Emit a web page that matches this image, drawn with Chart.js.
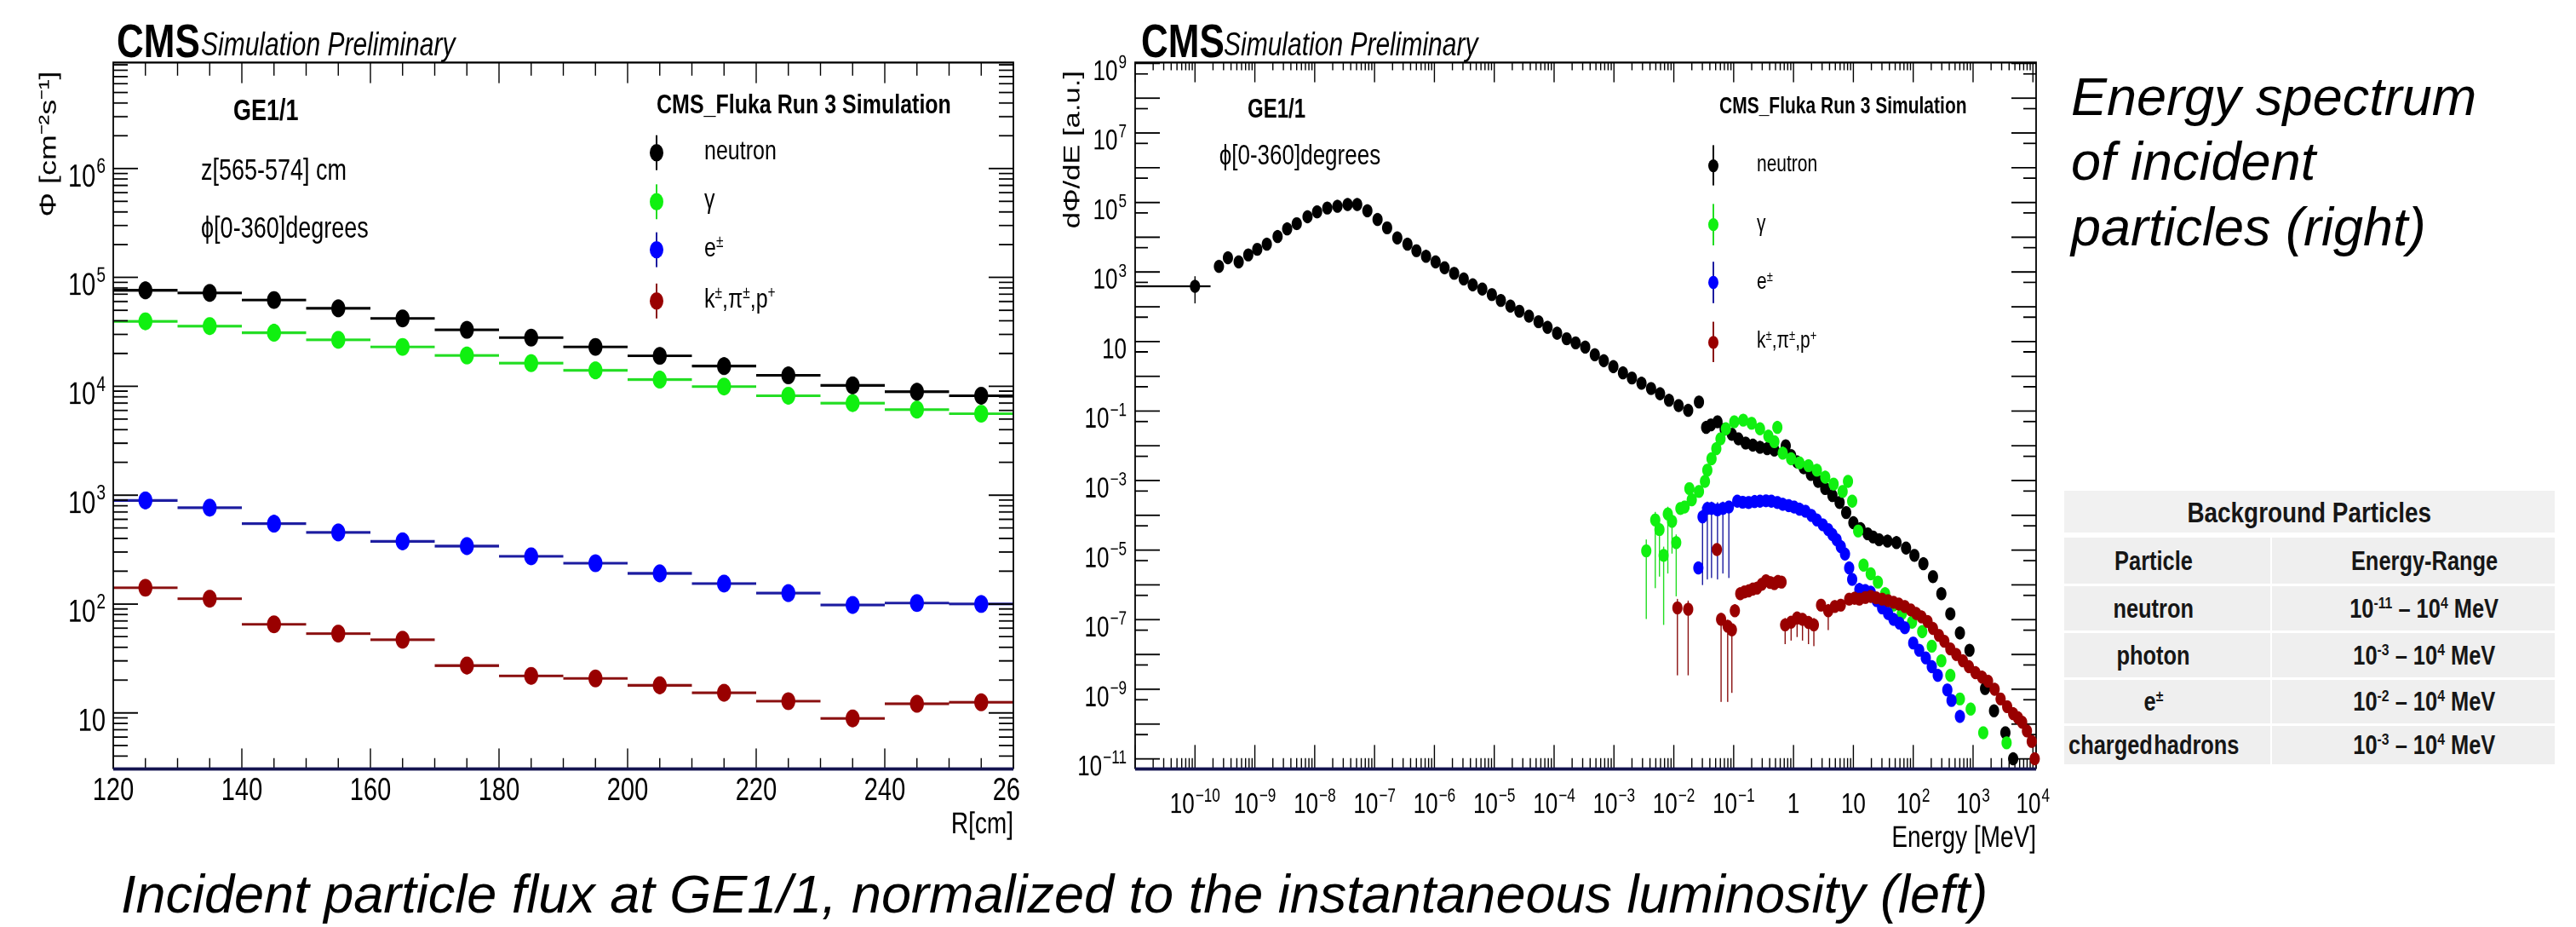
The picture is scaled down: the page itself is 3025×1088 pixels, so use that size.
<!DOCTYPE html>
<html>
<head>
<meta charset="utf-8">
<title>GE1/1 background flux and energy spectrum</title>
<script src="https://cdn.jsdelivr.net/npm/chart.js@4.4.1/dist/chart.umd.min.js"></script>
<style>
  html, body { margin: 0; padding: 0; background: #fff; }
  body { position: relative; width: 3025px; height: 1088px; overflow: hidden;
         font-family: 'Liberation Sans', Arial, Helvetica, sans-serif; color: #000; }
  /* the plots in the reference are stretched vertically, text included */
  .panel { position: absolute; top: 0; height: 790px; transform: scaleY(1.28); transform-origin: 0 0; }
  .panel canvas { position: absolute; left: 0; top: 0; }
  #leftPanel { left: 0; width: 1197px; overflow: hidden; }
  #rightPanel { left: 1240px; width: 1180px; }
  .note { position: absolute; white-space: nowrap; line-height: 1; }
  .b { font-weight: bold; }
  .i { font-style: italic; }
  sup { font-size: 0.62em; vertical-align: 0.55em; line-height: 0; }
  .mk { position: absolute; width: 0; height: 0; }
  .mk .ln { position: absolute; left: -1px; width: 2px; }
  .mk .dot { position: absolute; border-radius: 50%; }
  .slide { position: absolute; white-space: nowrap; font-style: italic; font-size: 63px; line-height: 1; }
  #bgTable { position: absolute; left: 2424px; top: 576px; width: 576px; color: #161616; }
  #bgTable .tt { height: 49px; margin-bottom: 6px; background: #f1f1f1;
                 display: flex; align-items: center; justify-content: center; }
  #bgTable .row { display: flex; gap: 2px; margin-bottom: 3px; }
  #bgTable .row > div { background: #efefef; display: flex; align-items: center; justify-content: center;
                        box-sizing: border-box; }
  #bgTable .c1 { width: 242px; padding-right: 32px; }
  #bgTable .c2 { width: 332px; padding-left: 26px; }
  #bgTable span { display: inline-block; font-weight: bold; font-size: 31px; line-height: 1;
                  transform: scaleX(0.82); white-space: nowrap; }
  #bgTable .tt span { font-size: 34px; }
</style>
</head>
<body>

<div id="leftPanel" class="panel">
  <canvas id="fluxChart" width="1240" height="790"></canvas>
  <div class="note b" style="left:137px; top:14.8px; font-size:44px;">CMS</div>
  <div class="note i" style="left:236px; top:25.6px; font-size:30px;">Simulation Preliminary</div>
  <div class="note b" style="left:274px; top:88.1px; font-size:27px;">GE1/1</div>
  <div class="note" style="left:236px; top:142.8px; font-size:27px;">z[565-574] cm</div>
  <div class="note" style="left:236px; top:195.9px; font-size:27px;">ϕ[0-360]degrees</div>
  <div class="note b" style="left:771px; top:82.8px; font-size:25px;">CMS_Fluka Run 3 Simulation</div>
  <div id="leftLegend"></div>
</div>

<div id="rightPanel" class="panel">
  <canvas id="spectrumChart" width="1180" height="790"></canvas>
  <div class="note b" style="left:100px; top:14.8px; font-size:44px;">CMS</div>
  <div class="note i" style="left:197px; top:25.6px; font-size:30px;">Simulation Preliminary</div>
  <div class="note b" style="left:225px; top:87.5px; font-size:24px;">GE1/1</div>
  <div class="note" style="left:191.7px; top:128.8px; font-size:26px;">ϕ[0-360]degrees</div>
  <div class="note b" style="left:779px; top:86.2px; font-size:21px;">CMS_Fluka Run 3 Simulation</div>
  <div id="rightLegend"></div>
</div>

<div class="slide" style="left:2432px; top:81.7px;">Energy spectrum</div>
<div class="slide" style="left:2432px; top:158.4px;">of incident</div>
<div class="slide" style="left:2432px; top:235px;">particles (right)</div>

<div id="bgTable">
  <div class="tt"><span>Background Particles</span></div>
  <div class="row" style="height:54px;"><div class="c1"><span>Particle</span></div><div class="c2"><span>Energy-Range</span></div></div>
  <div class="row" style="height:52px;"><div class="c1"><span>neutron</span></div><div class="c2"><span>10<sup>-11</sup> – 10<sup>4</sup> MeV</span></div></div>
  <div class="row" style="height:52px;"><div class="c1"><span>photon</span></div><div class="c2"><span>10<sup>-3</sup> – 10<sup>4</sup> MeV</span></div></div>
  <div class="row" style="height:51px;"><div class="c1"><span>e<sup>±</sup></span></div><div class="c2"><span>10<sup>-2</sup> – 10<sup>4</sup> MeV</span></div></div>
  <div class="row" style="height:45px;"><div class="c1"><span style="word-spacing:-7px;">charged hadrons</span></div><div class="c2"><span>10<sup>-3</sup> – 10<sup>4</sup> MeV</span></div></div>
</div>

<div class="slide" style="left:142px; top:1017.7px;">Incident particle flux at GE1/1, normalized to the instantaneous luminosity (left)</div>

<script>
// ---------- left plot: flux vs radius ----------
const radiusBins = [125, 135, 145, 155, 165, 175, 185, 195, 205, 215, 225, 235, 245, 255];
const binHalfWidth = 5;
const fluxNeutron = [76000, 72000, 62000, 52000, 42000, 33000, 28000, 23000, 19000, 15300, 12600, 10200, 8900, 8200];
const fluxGamma = [39500, 35700, 31000, 26700, 23000, 19200, 16300, 14000, 11500, 9950, 8200, 7000, 6100, 5600];
const fluxElectron = [895, 767, 546, 454, 377, 340, 274, 237, 191, 154, 126, 98, 102, 100];
const fluxHadron = [141, 112, 65, 53.5, 47, 27.2, 21.9, 20.7, 17.9, 15.3, 12.8, 8.9, 12.1, 12.5];
const radiusTicks = [120, 140, 160, 180, 200, 220, 240, 260];
const fluxTickExps = [1, 2, 3, 4, 5, 6];

// ---------- right plot: energy spectrum (powers of ten) ----------
const neutronLogE = [-10.00, -9.60, -9.45, -9.27, -9.11, -8.96, -8.80, -8.62, -8.46, -8.30, -8.12, -7.96, -7.79, -7.62,
  -7.45, -7.29, -7.12, -6.95, -6.79, -6.62, -6.45, -6.30, -6.14, -5.98, -5.83, -5.67, -5.51, -5.36, -5.20, -5.04,
  -4.89, -4.73, -4.58, -4.42, -4.26, -4.11, -3.95, -3.79, -3.64, -3.48, -3.32, -3.17, -3.01, -2.85, -2.70, -2.54,
  -2.38, -2.23, -2.08, -1.92, -1.76, -1.58, -1.46, -1.38, -1.27, -1.15, -1.03, -0.92, -0.80, -0.68, -0.56, -0.44,
  -0.32, -0.13, -0.04, 0.06, 0.17, 0.29, 0.41, 0.53, 0.65, 0.77, 0.88, 1.00, 1.12, 1.24, 1.33, 1.43, 1.57, 1.72,
  1.88, 2.02, 2.17, 2.33, 2.47, 2.62, 2.78, 2.94, 3.20, 3.35, 3.54, 3.67];
const neutronLogFlux = [2.59, 3.16, 3.41, 3.29, 3.49, 3.65, 3.80, 4.02, 4.24, 4.39, 4.59, 4.73, 4.84, 4.89,
  4.94, 4.94, 4.76, 4.51, 4.27, 3.98, 3.80, 3.61, 3.45, 3.29, 3.12, 2.96, 2.80, 2.63, 2.51, 2.35,
  2.18, 2.02, 1.87, 1.73, 1.57, 1.41, 1.24, 1.08, 0.96, 0.84, 0.62, 0.45, 0.28, 0.10, -0.05, -0.20,
  -0.35, -0.50, -0.69, -0.84, -0.98, -0.74, -1.47, -1.40, -1.31, -1.52, -1.67, -1.80, -1.92, -1.98, -2.04, -2.08,
  -2.12, -2.00, -2.28, -2.46, -2.63, -2.82, -3.02, -3.23, -3.43, -3.63, -3.92, -4.21, -4.38, -4.53, -4.62, -4.70, -4.74, -4.78,
  -4.94, -5.15, -5.39, -5.76, -6.25, -6.83, -7.38, -7.88, -8.98, -9.62, -10.25, -11.00];
const neutronErrIdx = [0];
const neutronErrLow = [2.10];
const neutronErrHigh = [2.88];
const neutronBinLow = [-11.0];
const neutronBinHigh = [-9.74];

const gammaLogE = [-2.46, -2.31, -2.24, -2.17, -2.10, -2.03, -1.96, -1.89, -1.82, -1.74, -1.70, -1.58, -1.48, -1.44,
  -1.37, -1.29, -1.22, -1.13, -0.99, -0.84, -0.70, -0.56, -0.42, -0.32, -0.27, -0.18, -0.04, 0.10, 0.25, 0.39,
  0.53, 0.67, 0.82, 0.91, 0.98, 1.08, 1.17, 1.29, 1.41, 1.53, 1.67, 1.81, 1.98, 2.15, 2.31, 2.47, 2.62, 2.78,
  2.96, 3.17, 3.56];
const gammaLogFlux = [-5.02, -4.13, -4.41, -5.15, -3.96, -4.17, -4.78, -3.80, -3.76, -3.23, -3.55, -3.31, -3.02, -2.70,
  -2.37, -2.08, -1.80, -1.51, -1.31, -1.26, -1.35, -1.51, -1.72, -1.88, -1.47, -2.21, -2.37, -2.49, -2.57, -2.70,
  -2.90, -3.10, -3.31, -3.02, -3.59, -4.45, -5.43, -5.68, -5.92, -6.25, -6.58, -6.82, -7.07, -7.34, -7.76, -8.18, -8.60, -9.28,
  -9.57, -10.25, -10.54];
const gammaErrIdx = [0, 1, 2, 3, 4, 5, 6];
const gammaErrLow = [-6.98, -6.09, -5.76, -7.15, -5.67, -5.10, -6.33];
const gammaErrHigh = [-4.69, -3.90, -4.20, -4.90, -3.75, -3.95, -4.55];

const electronLogE = [-1.59, -1.52, -1.44, -1.37, -1.27, -1.18, -1.08, -0.94, -0.85, -0.75, -0.65, -0.56, -0.46, -0.37,
  -0.27, -0.18, -0.08, 0.01, 0.10, 0.20, 0.30, 0.39, 0.49, 0.58, 0.65, 0.72, 0.79, 0.86, 0.93, 0.98, 1.10, 1.20,
  1.29, 1.39, 1.48, 1.58, 1.67, 1.77, 1.86, 2.00, 2.10, 2.21, 2.31, 2.41, 2.57, 2.64, 2.78];
const electronLogFlux = [-5.51, -4.04, -3.80, -3.80, -3.84, -3.80, -3.76, -3.59, -3.62, -3.63, -3.60, -3.59, -3.58, -3.59,
  -3.63, -3.68, -3.72, -3.76, -3.82, -3.88, -4.00, -4.13, -4.27, -4.41, -4.55, -4.70, -4.90, -5.11, -5.51, -5.84, -6.13, -6.16,
  -6.21, -6.45, -6.66, -6.82, -6.99, -7.10, -7.23, -7.67, -7.88, -8.10, -8.35, -8.60, -9.02, -9.32, -9.78];
const electronErrIdx = [1, 2, 3, 4, 5, 6];
const electronErrLow = [-6.00, -5.84, -5.80, -5.84, -5.67, -5.80];
const electronErrHigh = [-3.75, -3.60, -3.60, -3.62, -3.60, -3.58];

const hadronLogE = [-1.94, -1.76, -1.28, -1.21, -1.10, -1.03, -0.98, -0.89, -0.82, -0.75, -0.68, -0.61, -0.53, -0.46,
  -0.39, -0.32, -0.26, -0.20, -0.14, -0.04, 0.06, 0.15, 0.25, 0.34, 0.46, 0.58, 0.69, 0.79, 0.93, 1.02, 1.10,
  1.20, 1.29, 1.38, 1.48, 1.58, 1.67, 1.76, 1.86, 1.96, 2.05, 2.14, 2.24, 2.33, 2.43, 2.52, 2.62, 2.72, 2.83,
  2.93, 3.04, 3.15, 3.25, 3.36, 3.46, 3.57, 3.67, 3.75, 3.82, 3.90, 3.98, 4.03];
const hadronLogFlux = [-6.66, -6.70, -4.98, -6.99, -7.19, -7.29, -6.74, -6.25, -6.20, -6.17, -6.12, -6.09, -5.98, -5.88,
  -5.93, -5.96, -5.90, -5.92, -7.15, -7.07, -6.95, -6.99, -7.08, -7.15, -6.58, -6.74, -6.62, -6.58, -6.41, -6.38, -6.41,
  -6.36, -6.33, -6.37, -6.41, -6.45, -6.50, -6.55, -6.62, -6.72, -6.82, -6.92, -7.05, -7.25, -7.45, -7.62, -7.84, -8.00, -8.18,
  -8.35, -8.52, -8.65, -8.77, -9.00, -9.28, -9.50, -9.70, -9.82, -9.95, -10.20, -10.50, -11.00];
const hadronErrIdx = [0, 1, 2, 3, 4, 5, 18, 19, 20, 21, 22, 23, 25];
const hadronErrLow = [-8.60, -8.60, -5.15, -9.36, -9.36, -9.10, -7.70, -7.60, -7.50, -7.60, -7.70, -7.76, -7.30];
const hadronErrHigh = [-6.40, -6.45, -4.85, -6.80, -7.00, -7.10, -6.95, -6.90, -6.80, -6.85, -6.90, -6.95, -6.55];

const energyTickExps = [-10, -9, -8, -7, -6, -5, -4, -3, -2, -1, 0, 1, 2, 3, 4];
const spectrumTickExps = [9, 7, 5, 3, 1, -1, -3, -5, -7, -9, -11];

// ---------- styling ----------
const FONT = "'Liberation Sans', Arial, Helvetica, sans-serif";
Chart.defaults.font.family = FONT;
Chart.defaults.color = '#000';

const COLORS = { neutron: '#000000', gamma: '#10f010', electron: '#0000ff', hadron: '#990000' };
const BAR_COLORS = { neutron: '#000000', gamma: '#22dd22', electron: '#1c1ca0', hadron: '#8a1010' };
const LABELS = { neutron: 'neutron', gamma: 'γ', electron: 'e<sup>±</sup>', hadron: 'k<sup>±</sup>,π<sup>±</sup>,p<sup>+</sup>' };
const ORDER = { neutron: 4, gamma: 3, electron: 2, hadron: 1 };

const decades = (from, to) => { const out = []; for (let e = from; e <= to; e++) out.push(10 ** e); return out; };
const logMinor = (from, to, mults) => {
  const out = [];
  for (let e = from; e <= to; e++) mults.forEach(m => out.push(m * 10 ** e));
  return out;
};
const steps = (from, to, step) => { const out = []; for (let v = from; v <= to; v += step) out.push(v); return out; };

// "10" with a raised exponent, ROOT style
function drawPower(ctx, value, x, baseline, align, size) {
  const e = Math.round(Math.log10(value));
  const base = e === 0 ? '1' : '10';
  const exp = (e === 0 || e === 1) ? '' : String(e).replace('-', '−');
  const supSize = size * 0.66;
  const gap = size * 0.04;
  ctx.font = `${size}px ${FONT}`;
  const wb = ctx.measureText(base).width;
  ctx.font = `${supSize}px ${FONT}`;
  const we = exp ? ctx.measureText(exp).width + gap : 0;
  const x0 = align === 'right' ? x - wb - we : x - (wb + we) / 2;
  ctx.textAlign = 'left';
  ctx.textBaseline = 'alphabetic';
  ctx.font = `${size}px ${FONT}`;
  ctx.fillText(base, x0, baseline);
  if (exp) {
    ctx.font = `${supSize}px ${FONT}`;
    ctx.fillText(exp, x0 + wb + gap, baseline - size * 0.42);
  }
}

// power-of-ten tick labels for log axes (positions from the chart's own scales)
function makePowerLabels(spec) {
  return {
    id: 'powerLabels',
    afterDraw(chart) {
      const { ctx, chartArea: a, scales } = chart;
      ctx.save();
      ctx.fillStyle = '#000';
      if (spec.y) {
        const s = scales.y;
        s.ticks.forEach(t => {
          const py = s.getPixelForValue(t.value);
          drawPower(ctx, t.value, a.left - spec.y.pad, py + spec.y.shift + 0.358 * spec.y.size, 'right', spec.y.size);
        });
      }
      if (spec.x) {
        const s = scales.x;
        s.ticks.forEach(t => {
          drawPower(ctx, t.value, s.getPixelForValue(t.value), spec.x.baseline, 'center', spec.x.size);
        });
      }
      ctx.restore();
    }
  };
}

// ROOT style frame: box, inward ticks on all four sides, heavy bottom axis line
function makeFrame(spec) {
  return {
    id: 'rootFrame',
    beforeDatasetsDraw(chart) {
      const { ctx, chartArea: a, scales: { x, y } } = chart;
      const inX = v => v >= x.min && v <= x.max;
      const inY = v => v >= y.min && v <= y.max;
      ctx.save();
      ctx.strokeStyle = '#000';
      ctx.lineWidth = 1.4;
      ctx.beginPath();
      const xTicks = (vals, lenBottom, lenTop) => vals.filter(inX).forEach(v => {
        const px = x.getPixelForValue(v);
        ctx.moveTo(px, a.bottom); ctx.lineTo(px, a.bottom - lenBottom);
        ctx.moveTo(px, a.top); ctx.lineTo(px, a.top + lenTop);
      });
      const yTicks = (vals, len) => vals.filter(inY).forEach(v => {
        const py = y.getPixelForValue(v);
        ctx.moveTo(a.left, py); ctx.lineTo(a.left + len, py);
        ctx.moveTo(a.right, py); ctx.lineTo(a.right - len, py);
      });
      xTicks(spec.xMajor, spec.xMajorLen, spec.xMajorTopLen);
      xTicks(spec.xMinor, spec.xMinorLen, spec.xMinorTopLen);
      yTicks(spec.yMajor, spec.yMajorLen);
      yTicks(spec.yMinor, spec.yMinorLen);
      ctx.stroke();

      ctx.lineWidth = 1.8;
      ctx.beginPath();
      ctx.moveTo(a.left, a.bottom); ctx.lineTo(a.left, a.top);
      ctx.lineTo(a.right, a.top); ctx.lineTo(a.right, a.bottom);
      ctx.stroke();

      ctx.strokeStyle = '#141450';
      ctx.lineWidth = 3;
      ctx.beginPath();
      ctx.moveTo(a.left, a.bottom); ctx.lineTo(a.right, a.bottom);
      ctx.stroke();
      ctx.restore();
    }
  };
}

// error bars kept on each dataset as {i, xLo, xHi, yLo, yHi}
const errorBars = {
  id: 'errorBars',
  beforeDatasetsDraw(chart) {
    const { ctx, scales: { x, y } } = chart;
    ctx.save();
    chart.data.datasets.forEach(ds => {
      if (!ds.errors) return;
      ctx.strokeStyle = ds.barColor;
      ctx.lineWidth = ds.hBarWidth;
      ctx.beginPath();
      ds.errors.forEach(e => {
        if (e.xLo === undefined) return;
        const py = y.getPixelForValue(ds.data[e.i].y);
        ctx.moveTo(x.getPixelForValue(e.xLo), py);
        ctx.lineTo(x.getPixelForValue(e.xHi), py);
      });
      ctx.stroke();
      ctx.lineWidth = ds.vBarWidth;
      ctx.beginPath();
      ds.errors.forEach(e => {
        if (e.yLo === undefined) return;
        const px = x.getPixelForValue(ds.data[e.i].x);
        ctx.moveTo(px, y.getPixelForValue(e.yLo));
        ctx.lineTo(px, y.getPixelForValue(e.yHi));
      });
      ctx.stroke();
    });
    ctx.restore();
  }
};

function pointStyle(key, radius) {
  return {
    label: key,
    showLine: false,
    pointRadius: radius,
    pointHoverRadius: radius,
    pointBorderWidth: 0,
    pointBackgroundColor: COLORS[key],
    backgroundColor: COLORS[key],
    borderColor: COLORS[key],
    barColor: BAR_COLORS[key],
    order: ORDER[key],
    clip: false
  };
}

function fluxSet(key, values) {
  return Object.assign(pointStyle(key, 8.2), {
    data: radiusBins.map((r, i) => ({ x: r, y: values[i] })),
    errors: radiusBins.map((r, i) => ({ i, xLo: r - binHalfWidth, xHi: r + binHalfWidth })),
    hBarWidth: 2.4,
    vBarWidth: 1.5
  });
}

function spectrumSet(key, logE, logV, errIdx, errLow, errHigh, binLow, binHigh) {
  const errors = errIdx.map((idx, k) => {
    const e = { i: idx, yLo: 10 ** errLow[k], yHi: 10 ** errHigh[k] };
    if (binLow) { e.xLo = 10 ** binLow[k]; e.xHi = 10 ** binHigh[k]; }
    return e;
  });
  return Object.assign(pointStyle(key, 6), {
    data: logE.map((e, i) => ({ x: 10 ** e, y: 10 ** logV[i] })),
    errors,
    hBarWidth: 1.8,
    vBarWidth: 1.4
  });
}

function legend(containerId, keys, x, ys, r, half, labelX, fontSize) {
  const box = document.getElementById(containerId);
  keys.forEach((key, k) => {
    const mk = document.createElement('div');
    mk.className = 'mk';
    mk.style.left = x + 'px';
    mk.style.top = ys[k] + 'px';
    mk.innerHTML = `<div class="ln" style="top:${-half}px;height:${2 * half}px;background:${BAR_COLORS[key]}"></div>` +
      `<div class="dot" style="left:${-r}px;top:${-r}px;width:${2 * r}px;height:${2 * r}px;background:${COLORS[key]}"></div>`;
    box.appendChild(mk);
    const lab = document.createElement('div');
    lab.className = 'note';
    lab.style.left = labelX + 'px';
    lab.style.top = (ys[k] - 0.586 * fontSize) + 'px';
    lab.style.fontSize = fontSize + 'px';
    lab.innerHTML = LABELS[key];
    box.appendChild(lab);
  });
}

const common = {
  responsive: false,
  devicePixelRatio: 2,
  animation: false,
  events: [],
  plugins: { legend: { display: false }, tooltip: { enabled: false } }
};

// ---------- left chart ----------
new Chart(document.getElementById('fluxChart'), {
  type: 'scatter',
  data: {
    datasets: [
      fluxSet('neutron', fluxNeutron),
      fluxSet('gamma', fluxGamma),
      fluxSet('electron', fluxElectron),
      fluxSet('hadron', fluxHadron)
    ]
  },
  options: Object.assign({}, common, {
    layout: { padding: { left: 0, top: 57.4, right: 50, bottom: 0 } },
    scales: {
      x: {
        type: 'linear', min: 120, max: 260,
        afterBuildTicks: s => { s.ticks = radiusTicks.map(v => ({ value: v })); },
        afterFit: s => { s.height = 84.9; },
        grid: { display: false, drawTicks: false },
        border: { display: false },
        ticks: { font: { size: 29 }, color: '#000', padding: 3, maxRotation: 0, autoSkip: false },
        title: { display: true, text: 'R[cm]', align: 'end', color: '#000', font: { size: 28 },
                 padding: { top: 0, bottom: 16.9 } }
      },
      y: {
        type: 'logarithmic', min: 3.05, max: 9.4e6,
        afterBuildTicks: s => { s.ticks = fluxTickExps.map(e => ({ value: 10 ** e })); },
        afterFit: s => { s.width = 133; },
        grid: { display: false, drawTicks: false },
        border: { display: false },
        ticks: { display: false },
        title: { display: true, text: 'Φ [cm⁻²s⁻¹] ', align: 'end', color: '#000', font: { size: 28 },
                 padding: { top: 41, bottom: 0 } }
      }
    }
  }),
  plugins: [errorBars, makeFrame({
    xMajor: radiusTicks, xMinor: steps(125, 255, 5),
    xMajorLen: 18.8, xMajorTopLen: 18.8, xMinorLen: 10, xMinorTopLen: 12,
    yMajor: decades(1, 6), yMinor: logMinor(0, 6, [2, 3, 4, 5, 6, 7, 8, 9]),
    yMajorLen: 29, yMinorLen: 17
  }), makePowerLabels({ y: { size: 29, pad: 9, shift: 6 } })]
});

// ---------- right chart ----------
new Chart(document.getElementById('spectrumChart'), {
  type: 'scatter',
  data: {
    datasets: [
      spectrumSet('neutron', neutronLogE, neutronLogFlux, neutronErrIdx, neutronErrLow, neutronErrHigh, neutronBinLow, neutronBinHigh),
      spectrumSet('gamma', gammaLogE, gammaLogFlux, gammaErrIdx, gammaErrLow, gammaErrHigh),
      spectrumSet('electron', electronLogE, electronLogFlux, electronErrIdx, electronErrLow, electronErrHigh),
      spectrumSet('hadron', hadronLogE, hadronLogFlux, hadronErrIdx, hadronErrLow, hadronErrHigh)
    ]
  },
  options: Object.assign({}, common, {
    layout: { padding: { left: 0, top: 57.4, right: 29, bottom: 0 } },
    scales: {
      x: {
        type: 'logarithmic', min: 1e-11, max: 1.13e4,
        afterBuildTicks: s => { s.ticks = energyTickExps.map(e => ({ value: 10 ** e })); },
        afterFit: s => { s.height = 84.9; },
        grid: { display: false, drawTicks: false },
        border: { display: false },
        ticks: { display: false },
        title: { display: true, text: 'Energy [MeV]', align: 'end', color: '#000', font: { size: 28 },
                 padding: { top: 0, bottom: 4.5 } }
      },
      y: {
        type: 'logarithmic', min: 5.1e-12, max: 1.05e9,
        afterBuildTicks: s => { s.ticks = spectrumTickExps.map(e => ({ value: 10 ** e })); },
        afterFit: s => { s.width = 93; },
        grid: { display: false, drawTicks: false },
        border: { display: false },
        ticks: { display: false },
        title: { display: true, text: 'dΦ/dE [a.u.] ', align: 'end', color: '#000', font: { size: 27 },
                 padding: { top: 3.8, bottom: 0 } }
      }
    }
  }),
  plugins: [errorBars, makeFrame({
    xMajor: decades(-11, 4), xMinor: logMinor(-11, 4, [2, 3, 4, 5, 6, 7, 8, 9]),
    xMajorLen: 22, xMajorTopLen: 18, xMinorLen: 10, xMinorTopLen: 7,
    yMajor: decades(-11, 9), yMinor: logMinor(-12, 8, [5]),
    yMajorLen: 29, yMinorLen: 15
  }), makePowerLabels({ y: { size: 26, pad: 10, shift: 6 }, x: { size: 26, baseline: 745.7 } })]
});

legend('leftLegend', ['neutron', 'gamma', 'electron', 'hadron'], 771, [140, 185, 229, 276], 8.2, 16.4, 827, 25);
legend('rightLegend', ['neutron', 'gamma', 'electron', 'hadron'], 771.7, [151.6, 206, 259, 313.5], 6, 18.75, 823, 21);
</script>
</body>
</html>
